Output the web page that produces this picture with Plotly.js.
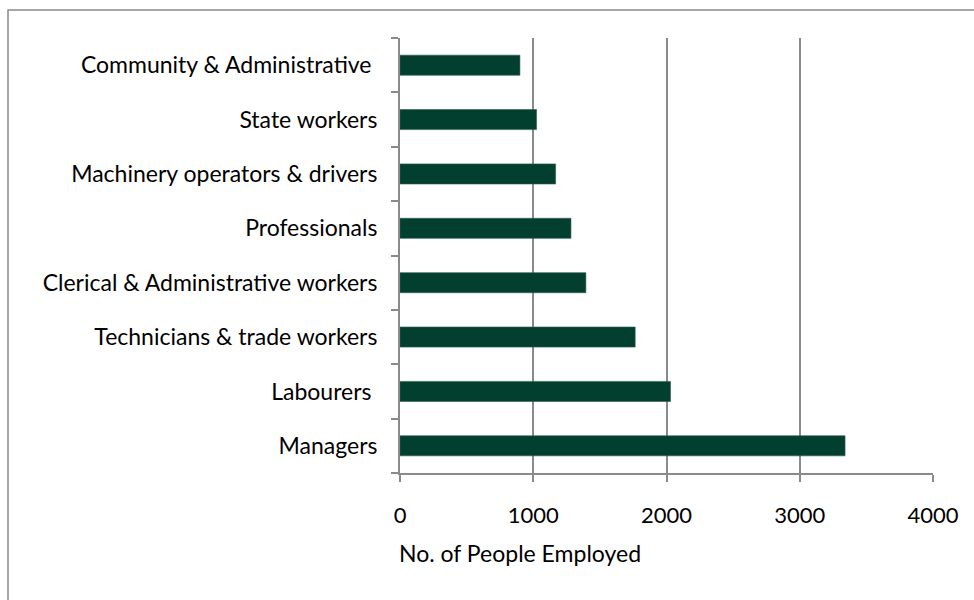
<!DOCTYPE html>
<html>
<head>
<meta charset="utf-8">
<script src="https://cdn.plot.ly/plotly-3.0.1.min.js"></script>
<style>html,body{margin:0;padding:0;background:#fff;}#chart{width:974px;height:600px;}</style>
</head>
<body>
<div id="chart"></div>
<script>
const categories = [
  "Managers",
  "Labourers\u00a0",
  "Technicians & trade workers",
  "Clerical & Administrative workers",
  "Professionals",
  "Machinery operators & drivers",
  "State workers",
  "Community & Administrative\u00a0"
];
const employed = [3340, 2030, 1765, 1395, 1283, 1168, 1025, 900];
const xTicks = [0, 1000, 2000, 3000, 4000];
const xTitle = "No. of People Employed";

const FONT = "Lato, 'Open Sans', sans-serif";

const trace = {
  type: "bar",
  orientation: "h",
  y: categories,
  x: employed,
  width: 0.37,
  marker: {color: "#033f2f", line: {color: "#2f5f50", width: 0.6}},
  hoverinfo: "x+y"
};

const layout = {
  width: 974,
  height: 600,
  margin: {l: 400, r: 41, t: 38, b: 127},
  paper_bgcolor: "#fff",
  plot_bgcolor: "#fff",
  showlegend: false,
  font: {family: FONT, color: "#000", size: 23},
  xaxis: {
    range: [0, 4000],
    tickvals: xTicks,
    ticktext: xTicks.map(String),
    showgrid: true,
    gridcolor: "#8a8a8a",
    gridwidth: 2,
    zeroline: false,
    showline: true,
    linecolor: "#8a8a8a",
    linewidth: 2,
    ticks: "outside",
    ticklen: 7,
    tickwidth: 2,
    tickcolor: "#8a8a8a",
    ticklabelstandoff: 15,
    tickfont: {family: FONT, size: 22, color: "#000"},
    fixedrange: true
  },
  yaxis: {
    type: "category",
    showgrid: false,
    zeroline: false,
    showline: true,
    linecolor: "#8a8a8a",
    linewidth: 2,
    ticks: "outside",
    tickson: "boundaries",
    ticklen: 7,
    tickwidth: 2,
    tickcolor: "#8a8a8a",
    ticklabelstandoff: 16,
    tickfont: {family: FONT, size: 23, color: "#000"},
    fixedrange: true
  },
  annotations: [{
    text: xTitle,
    xref: "paper", yref: "paper",
    x: -0.006, y: -0.184,
    xanchor: "left", yanchor: "middle",
    showarrow: false,
    font: {family: FONT, size: 23, color: "#000"}
  }],
  shapes: [{
    type: "rect",
    xref: "paper", yref: "paper",
    x0: (8 - 400) / 533, x1: 1.2,
    y0: -0.5, y1: 1 + (38 - 10) / 435,
    line: {color: "#8a8a8a", width: 1.5},
    fillcolor: "rgba(0,0,0,0)",
    layer: "below"
  }]
};

Plotly.newPlot("chart", [trace], layout, {displayModeBar: false, staticPlot: true});
</script>
</body>
</html>
